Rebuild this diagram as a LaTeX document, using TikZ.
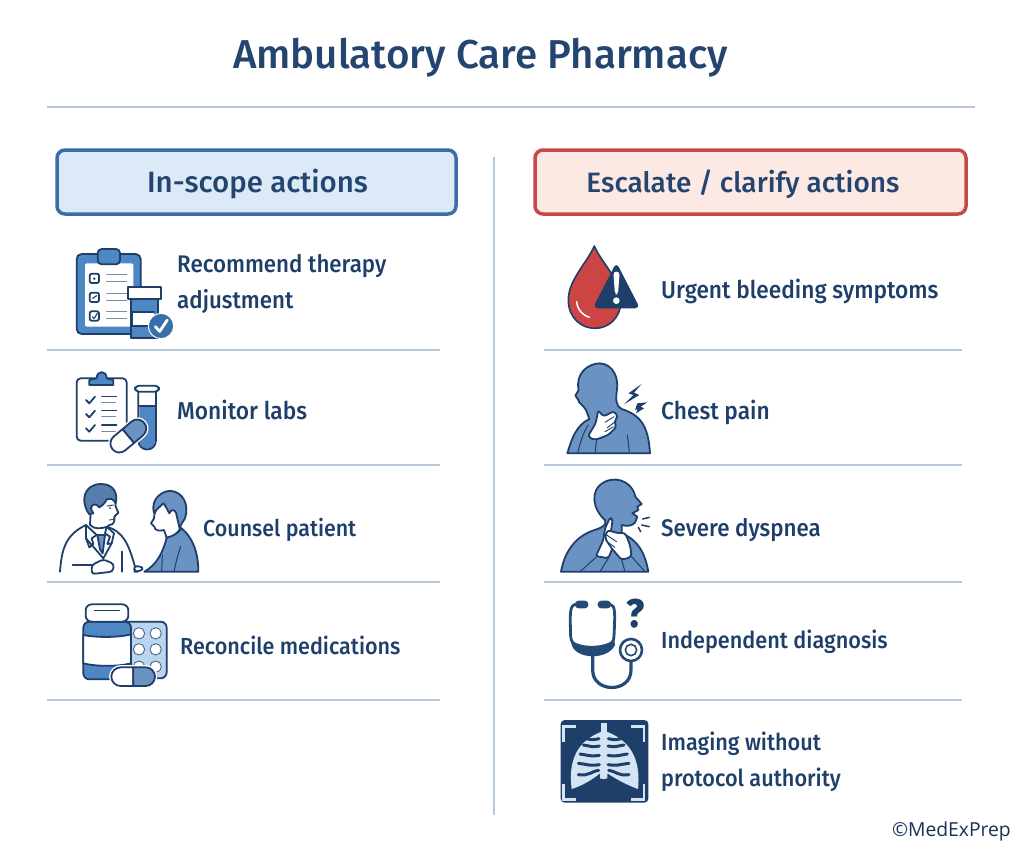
\documentclass[tikz,border=0pt]{standalone}
\usepackage{fontspec}
\setmainfont[FakeStretch=0.93]{Fira Sans Medium}
\newfontfamily\medf{Fira Sans Medium}
\newfontfamily\opf{Open Sans}
\definecolor{nv}{HTML}{1F3F6B}
\definecolor{tt}{HTML}{24456F}
\definecolor{md}{HTML}{4F86C4}
\definecolor{bl}{HTML}{6A92C2}
\definecolor{lt}{HTML}{BBD5F0}
\definecolor{rl}{HTML}{B7C8DE}
\definecolor{bluestroke}{HTML}{3A6EA8}
\definecolor{bluefill}{HTML}{DCE9F6}
\definecolor{redstroke}{HTML}{C8474B}
\definecolor{redfill}{HTML}{FDE9E3}
\definecolor{drop}{HTML}{CC4444}
\definecolor{xr}{HTML}{D5E4F3}
\tikzset{
  ic/.style={line join=round,line cap=round,draw=nv,line width=1.8pt},
  icthin/.style={line cap=round,draw=nv!60,line width=1pt},
  zoomed/.style={x=.33333pt,y=-.33333pt},
  lab/.style={anchor=west,align=left,text=nv,inner sep=0pt,font=\fontsize{#1}{36}\selectfont},
  lab/.default=23.5,
  head/.style={text=tt,inner sep=0pt},
  headbox/.style={rounded corners=8pt,line width=3.5pt},
  rule/.style={draw=rl,line width=1.2pt},
}
\begin{document}
\begin{tikzpicture}[x=1pt,y=-1pt]
\useasboundingbox (0,0) rectangle (1024,852);
\fill[white] (0,0) rectangle (1024,852);

\node[text=tt,inner sep=0pt,font=\medf\fontsize{40.3}{46}\selectfont] (title) at (480.5,58) {Ambulatory Care Pharmacy};
\coordinate (ruleA) at (47,107); \coordinate (ruleB) at (975,107);
\draw[rule] (ruleA) -- (ruleB);
\coordinate (midA) at (494,157); \coordinate (midB) at (494,815);
\draw[rule,line width=1.6pt] (midA) -- (midB);

\draw[headbox,draw=bluestroke,fill=bluefill] (57,150) rectangle (456,214);
\node[head,font=\medf\fontsize{29.4}{32}\selectfont] (inhead) at (257.5,184) {In-scope actions};
\draw[headbox,draw=redstroke,fill=redfill] (535,150) rectangle (966,214);
\node[head,font=\medf\fontsize{28}{32}\selectfont] (eshead) at (743,184) {Escalate / clarify actions};

\foreach \y in {350,465,582,700} {
  \draw[rule] (47,\y) -- (440,\y);
  \draw[rule] (544,\y) -- (962,\y);
}

\node[lab=24] (a) at (177,284) {Recommend therapy\\adjustment};
\node[lab=24.4] (b) at (177,410) {Monitor labs};
\node[lab=23] (c) at (203,530) {Counsel patient};
\node[lab=23.2] (d) at (180,645) {Reconcile medications};
\node[lab=24.4] (e) at (661,291) {Urgent bleeding symptoms};
\node[lab=24.4] (f) at (661,412) {Chest pain};
\node[lab=24] (g) at (661,530) {Severe dyspnea};
\node[lab=23.3] (h) at (661,642) {Independent diagnosis};
\node[lab=23.3] (i) at (661,762) {Imaging without\\protocol authority};
\node[anchor=east,inner sep=0pt,text=nv!80!black,font=\opf\fontsize{19.3}{22}\selectfont] (cp) at (1011,831) {©MedExPrep};

% icon 1
\begin{scope}[shift={(50,230)},zoomed]
\draw[ic,fill=md,rounded corners=5pt] (80,72) rectangle (272,312);
\fill[white,rounded corners=2pt] (105,100) rectangle (250,290);
\draw[ic,fill=md,rounded corners=4pt] (143,57) rectangle (210,103);
\foreach \yy in {145,202,258} {
  \draw[ic,rounded corners=2pt,fill=white] (119,\yy-14) rectangle (147,\yy+14);
  \draw[icthin] (170,\yy-13) -- (230,\yy-13);
  \draw[icthin] (170,\yy+8) -- (230,\yy+8);
}
\fill[nv] (133,146) circle (4);
\draw[ic,line width=1.1pt] (128,205) -- (140,197);
\draw[ic,line width=1.1pt] (127,260) -- (132,266) -- (142,250);
\draw[ic,fill=md] (243,207) rectangle (325,325);
\draw[ic,fill=white] (233,170) rectangle (333,207);
\fill[white] (245,245) rectangle (312,287);
\draw[ic] (245,245) -- (312,245) (245,245) -- (245,287) -- (305,287);
\draw[draw=white,fill=bluestroke,line width=1pt] (333,288) circle (38);
\draw[white,line width=2.8pt,line cap=round,line join=round] (316,290) -- (329,304) -- (352,270);
\end{scope}

% icon 2
\begin{scope}[shift={(50,230)},zoomed]
\draw[ic,fill=white,rounded corners=4pt] (80,445) rectangle (230,632);
\draw[ic,fill=md] (118,465) -- (118,450) -- (140,445) .. controls (140,420) and (170,420) .. (170,445) -- (190,450) -- (190,465) -- cycle;
\foreach \yy in {510,552,595} {
  \draw[ic] (108,\yy) -- (118,\yy+10) -- (135,\yy-10);
  \draw[ic,line width=1.1pt] (155,\yy-10) -- (200,\yy-10);
  \draw[icthin] (155,\yy+8) -- (197,\yy+8);
}
\fill[md] (268,530) -- (315,530) -- (315,630) .. controls (315,665) and (268,665) .. (268,630) -- cycle;
\draw[ic] (265,485) -- (265,630) .. controls (265,668) and (318,668) .. (318,630) -- (318,485);
\draw[ic,fill=white,rounded corners=4pt] (255,467) rectangle (327,485);
\draw[ic] (268,528) -- (315,528);
\begin{scope}[shift={(235,618)},rotate=40]
\draw[white,line width=4.5pt,fill=white] (-35,-27) -- (35,-27) arc (-90:90:27) -- (-35,27) arc (90:270:27) -- cycle;
\draw[ic,fill=white] (0,-27) -- (-35,-27) arc (270:90:27) -- (0,27) -- cycle;
\draw[ic,fill=bl] (0,-27) -- (35,-27) arc (-90:90:27) -- (0,27) -- cycle;
\end{scope}
\end{scope}

% icon 3: counselling
\begin{scope}[shift={(50,470)},zoomed]
% patient
\draw[ic,fill=bl] (283,305) .. controls (320,285) and (340,245) .. (350,203) .. controls (370,195) and (385,190) .. (395,175) .. controls (430,205) and (445,250) .. (445,305) -- cycle;
\draw[ic,line width=1pt] (335,305) -- (337,255) (372,305) .. controls (378,275) and (385,250) .. (392,230);
\draw[ic,fill=white] (345,95) .. controls (325,100) and (312,125) .. (312,145) -- (303,160) -- (313,170) .. controls (313,182) and (330,184) .. (342,180) -- (350,203) .. controls (370,198) and (385,190) .. (392,172) -- (385,110) -- cycle;
\draw[ic,fill=bl] (312,128) .. controls (300,85) and (340,60) .. (365,63) .. controls (400,68) and (418,105) .. (405,145) -- (388,172) -- (378,128) .. controls (372,115) and (362,120) .. (358,130) .. controls (350,115) and (345,105) .. (340,100) .. controls (330,110) and (320,118) .. (312,128) -- cycle;
% doctor coat
\fill[white] (30,305) .. controls (35,240) and (45,195) .. (108,165) -- (170,170) .. controls (220,185) and (235,220) .. (255,290) -- (255,305) -- cycle;
\draw[ic] (30,305) .. controls (35,240) and (45,195) .. (108,165) (170,170) .. controls (220,185) and (235,220) .. (255,290);
\draw[ic] (215,305) -- (215,245);
\draw[ic,fill=bl] (142,195) -- (165,195) -- (158,250) -- (150,238) -- cycle;
\draw[ic,fill=white] (108,165) -- (140,195) -- (125,205) -- (130,222) -- (118,232) -- (108,205) -- cycle;
\draw[ic] (108,205) -- (160,265);
\draw[ic,fill=white] (170,170) -- (165,190) -- (180,200) -- (172,222) -- (185,220) -- (192,190) -- cycle;
\draw[ic] (185,220) -- (160,265);
\draw[ic] (68,285) -- (125,285);
\draw[ic,fill=white,rounded corners=3pt] (125,285) -- (160,268) -- (192,282) -- (188,305) -- (125,312) -- cycle;
\draw[ic,fill=white,rounded corners=3pt] (250,290) -- (270,288) -- (282,297) -- (262,305) -- (255,305) -- cycle;
% doctor head
\draw[ic,fill=white] (122,125) -- (120,165) .. controls (135,180) and (155,175) .. (172,170) -- (178,165) .. controls (190,165) and (195,155) .. (193,140) -- (205,128) -- (197,110) -- (195,75) -- (130,80) -- cycle;
\draw[ic,fill=bl!75!nv] (118,133) .. controls (90,95) and (100,45) .. (150,42) .. controls (190,40) and (205,70) .. (197,100) .. controls (190,85) and (180,85) .. (170,88) .. controls (165,100) and (155,108) .. (148,112) .. controls (140,100) and (125,100) .. (122,115) -- (130,130) -- cycle;
\draw[ic,line width=1pt] (172,108) -- (190,105);
\fill[nv] (180,114) circle (3);
\draw[ic,line width=.9pt] (178,150) -- (191,148);
\end{scope}

% icon 4
\begin{scope}[shift={(50,470)},zoomed]
\draw[ic,fill=lt,rounded corners=6pt] (200,455) rectangle (350,625);
\foreach \xx in {267,317} \foreach \yy in {490,538,590} \draw[draw=nv!80,line width=.9pt,fill=white] (\xx,\yy) circle (17);
\draw[ic,fill=md,rounded corners=6pt] (100,455) rectangle (243,628);
\draw[ic,fill=white] (100,495) .. controls (140,503) and (205,503) .. (243,493) -- (243,580) .. controls (205,590) and (140,590) .. (100,580) -- cycle;
\draw[ic,fill=white,rounded corners=6pt] (107,403) rectangle (235,455);
\draw[ic,line width=1pt] (133,420) -- (208,420);
\draw[white,line width=4.5pt,fill=white] (212,592) -- (287,592) arc (-90:90:28) -- (212,648) arc (90:270:28) -- cycle;
\draw[ic,fill=white] (250,592) -- (212,592) arc (270:90:28) -- (250,648) -- cycle;
\draw[ic,fill=bl] (250,592) -- (287,592) arc (-90:90:28) -- (250,648) -- cycle;
\end{scope}

% drop
\begin{scope}[shift={(550,235)},zoomed]
\draw[ic,line width=1.6pt,fill=drop] (133,33) .. controls (110,85) and (55,135) .. (55,195) .. controls (55,250) and (95,280) .. (135,280) .. controls (175,280) and (213,250) .. (213,195) .. controls (213,135) and (155,85) .. (133,33) -- cycle;
\draw[white,line width=1.5pt,line cap=round] (80,200) .. controls (82,225) and (100,242) .. (118,247);
\fill[nv,rounded corners=5pt] (199,82) -- (270,220) -- (128,220) -- cycle;
\fill[white,rounded corners=3pt] (190,110) -- (209,110) -- (204,178) -- (195,178) -- cycle;
\fill[white] (199,197) circle (10);
\end{scope}

% chest pain
\begin{scope}[shift={(550,235)},zoomed]
\draw[ic,fill=bl] (52,655) .. controls (65,610) and (80,570) .. (118,552) -- (108,525) .. controls (100,510) and (85,505) .. (85,495) -- (76,482) -- (86,465) .. controls (75,415) and (115,385) .. (150,385) .. controls (190,388) and (208,430) .. (200,470) .. controls (198,490) and (195,510) .. (215,522) .. controls (270,540) and (295,570) .. (300,655) -- cycle;
\draw[ic,line width=1pt] (83,655) .. controls (90,625) and (100,590) .. (115,570);
\draw[ic,line width=1pt] (238,650) -- (232,600);
\draw[ic,fill=white,rounded corners=3pt] (113,605) -- (137,565) -- (145,525) -- (160,545) -- (192,528) -- (204,545) -- (192,560) -- (200,575) -- (175,600) -- (135,615) -- cycle;
\draw[ic,line width=.9pt] (165,562) -- (192,545) (172,578) -- (196,560) (165,590) -- (190,575);
\draw[ic,line width=1pt] (135,655) -- (140,612);
\fill[nv] (275,447) -- (235,475) -- (250,480) -- (222,508) -- (268,480) -- (252,473) -- cycle;
\fill[nv] (292,502) -- (262,505) -- (255,525) -- (263,522) -- (258,535) -- (282,520) -- (272,515) -- cycle;
\end{scope}

% dyspnea
\begin{scope}[shift={(550,470)},zoomed]
\draw[ic,fill=bl] (33,305) .. controls (45,240) and (80,195) .. (140,178) .. controls (160,170) and (170,165) .. (165,150) .. controls (130,120) and (115,60) .. (165,35) .. controls (210,15) and (250,45) .. (256,80) -- (275,102) -- (262,110) -- (265,120) -- (247,130) -- (262,140) -- (255,158) .. controls (245,168) and (230,170) .. (215,165) -- (215,190) .. controls (265,210) and (285,250) .. (295,305) -- cycle;
\draw[ic,fill=white,rounded corners=2pt] (138,258) -- (160,210) -- (165,175) -- (180,143) -- (188,147) -- (182,190) -- (195,215) -- (175,265) -- cycle;
\draw[ic,fill=white,rounded corners=3pt] (245,260) -- (215,270) -- (185,235) -- (165,205) -- (172,180) -- (205,190) -- (225,188) -- (240,225) -- cycle;
\draw[ic,line width=.9pt] (170,195) -- (200,215) (168,213) -- (195,232);
\draw[ic,line width=1pt] (90,305) -- (140,260) (150,305) -- (175,265) (225,305) -- (215,270) (285,305) -- (245,260);
\draw[ic,line width=1.5pt] (278,147) -- (298,142) (275,165) -- (298,170) (265,172) -- (272,185);
\end{scope}

% stethoscope
\begin{scope}[shift={(550,470)},zoomed]
\draw[draw=nv!85!md,line width=2.8pt,line cap=round] (78,403) .. controls (58,405) and (60,430) .. (62,500) .. controls (65,555) and (190,555) .. (192,500) .. controls (195,430) and (197,405) .. (180,403);
\fill[nv!85!md] (62,505) .. controls (75,535) and (175,535) .. (192,505) -- (195,525) .. controls (175,570) and (80,570) .. (65,525) -- cycle;
\fill[nv!85!md,rounded corners=3.5pt] (75,392) rectangle (115,415);
\fill[nv!85!md,rounded corners=3.5pt] (143,392) rectangle (183,415);
\draw[draw=nv!85!md,line width=3.2pt] (128,550) -- (128,600) .. controls (128,670) and (243,670) .. (243,600) -- (243,575);
\draw[draw=nv!85!md,line width=2.6pt,fill=white] (243,540) circle (33);
\draw[draw=nv!85!md,line width=1.6pt] (243,540) circle (17);
\node[inner sep=0pt,text=nv,font=\fontsize{40}{40}\bfseries\selectfont] (qm) at (257,431) {?};
\end{scope}

% x-ray
\begin{scope}[shift={(550,710)},zoomed]
\fill[nv,rounded corners=4pt] (32,30) rectangle (295,278);
\draw[xr,line width=2.6pt] (40,95) -- (40,50) -- (78,50);
\draw[xr,line width=2.6pt] (243,50) -- (282,50) -- (282,95);
\draw[xr,line width=2.6pt] (40,222) -- (40,268) -- (78,268);
\draw[xr,line width=2.6pt] (243,268) -- (282,268) -- (282,222);
\fill[xr] (152,40) rectangle (170,70);
\fill[xr] (65,237) .. controls (55,160) and (75,95) .. (155,65) -- (170,65) .. controls (250,95) and (272,160) .. (264,237) .. controls (230,225) and (195,205) .. (172,190) -- (172,205) .. controls (165,208) and (155,208) .. (150,205) -- (150,190) .. controls (125,210) and (95,228) .. (65,237) -- cycle;
\foreach \a/\b/\c/\d/\e in {108/86/128/90/147,100/105/125/112/148,90/132/118/140/148,85/160/118/168/148,85/194/120/185/146} {
  \draw[nv,line width=3pt,line cap=round] (\a,\b) .. controls (\c,\b+4) and (\c,\d) .. (\e,\d-4);
  \pgfmathsetmacro{\ma}{322-\a}\pgfmathsetmacro{\mc}{322-\c}\pgfmathsetmacro{\me}{322-\e}
  \draw[nv,line width=3pt,line cap=round] (\ma,\b) .. controls (\mc,\b+4) and (\mc,\d) .. (\me,\d-4);
}
\end{scope}
\end{tikzpicture}
\end{document}
